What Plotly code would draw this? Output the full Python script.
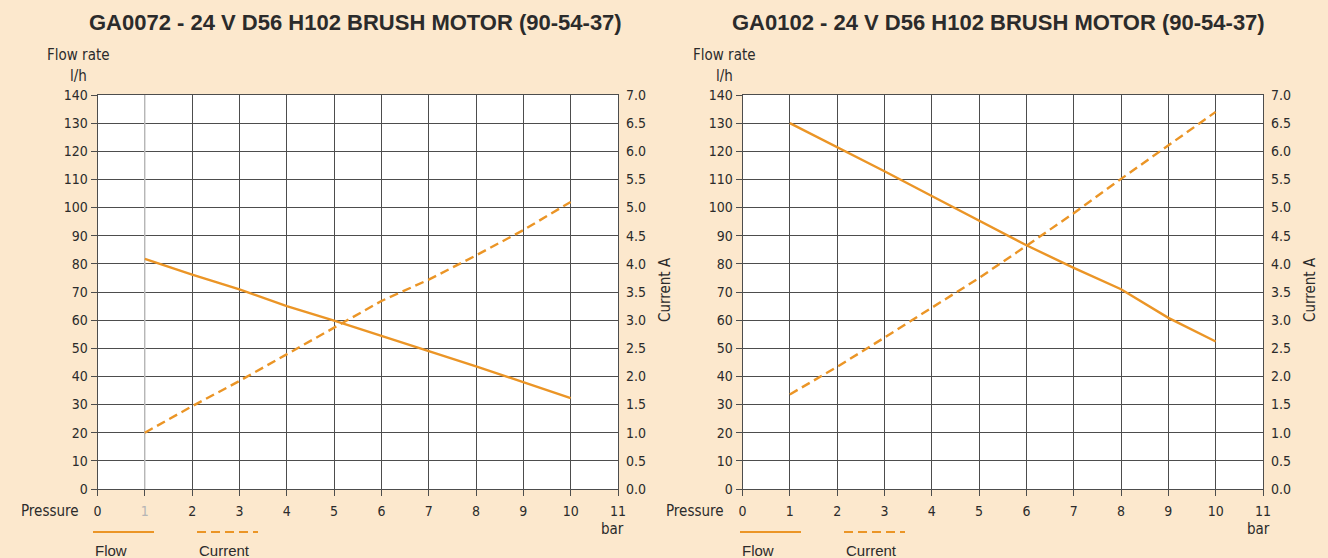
#!/usr/bin/env python
# -*- coding: utf-8 -*-

"""
Courbes débit / courant de deux pompes 24 V (GA0072, GA0102)
"""

import plotly.graph_objects as go

# Données
pressure = [1, 2, 3, 4, 5, 6, 7, 8, 9, 10]

ga0072_flow = [81.8, 76.2, 70.9, 65.0, 59.8, 54.3, 49.0, 43.6, 38.0, 32.3]
ga0072_current = [1.0, 1.47, 1.92, 2.39, 2.87, 3.34, 3.72, 4.15, 4.6, 5.1]

ga0102_flow = [130.0, 121.5, 112.9, 104.1, 95.3, 86.6, 78.6, 71.0, 60.8, 52.4]
ga0102_current = [1.68, 2.17, 2.69, 3.22, 3.75, 4.32, 4.9, 5.51, 6.11, 6.7]

titles = ["GA0072 - 24 V D56 H102 BRUSH MOTOR (90-54-37)",
          "GA0102 - 24 V D56 H102 BRUSH MOTOR (90-54-37)"]

x_ticks = list(range(0, 12))
flow_ticks = list(range(0, 150, 10))
current_ticks = [i * 0.5 for i in range(15)]

W, H = 1328, 558
BG = "#fce8cd"
ORANGE = "#eb9526"
GRID = "#4d4d4d"
TXT = "#2b2b2b"
NARROW = "Liberation Sans Narrow, DejaVu Sans Condensed, Arial Narrow, sans-serif"
WIDE = "Liberation Sans, Arial, sans-serif"
DASH = "9px,5px"


def px(x):
    return x / W


def py(y):
    return 1 - y / H


def label(text, x, y, size=15, family=NARROW, xanchor="center", **kw):
    return dict(text=text, xref="paper", yref="paper", x=px(x), y=py(y),
                xanchor=xanchor, yanchor="middle", showarrow=False,
                font=dict(family=family, size=size, color=TXT), **kw)


# Positions des deux graphiques (en pixels)
panels = [
    dict(x0=97.5, x1=618, pressure_right=81, bar_x=612, legend_x=93,
         title_x=355, flowrate_x=78, current_x=665),
    dict(x0=742.5, x1=1263, pressure_right=726, bar_x=1258, legend_x=740,
         title_x=998, flowrate_x=724, current_x=1310),
]
y_top, y_bot = 95, 489

fig = go.Figure()
annotations = []
shapes = []

for i, (p, flow, current) in enumerate(zip(
        panels, [ga0072_flow, ga0102_flow], [ga0072_current, ga0102_current])):
    n = 2 * i + 1
    xa = "x" if i == 0 else "x%d" % (i + 1)
    ya = "y" if n == 1 else "y%d" % n
    ya2 = "y%d" % (n + 1)

    fig.add_trace(go.Scatter(x=pressure, y=flow, mode="lines", name="Flow",
                             line=dict(color=ORANGE, width=2.4),
                             xaxis=xa, yaxis=ya, showlegend=False))
    fig.add_trace(go.Scatter(x=pressure, y=current, mode="lines", name="Current",
                             line=dict(color=ORANGE, width=2.4, dash=DASH),
                             xaxis=xa, yaxis=ya2, showlegend=False))

    ticktext = [str(t) for t in x_ticks]
    if i == 0:
        ticktext[1] = '<span style="color:#b5b5b5">1</span>'

    xdom = [px(p["x0"]), px(p["x1"])]
    ydom = [py(y_bot), py(y_top)]
    xkey = "xaxis" if i == 0 else "xaxis%d" % (i + 1)
    ykey = "yaxis" if n == 1 else "yaxis%d" % n
    y2key = "yaxis%d" % (n + 1)

    fig.layout[xkey] = dict(
        domain=xdom, range=[0, 11], anchor=ya, tickvals=x_ticks, ticktext=ticktext,
        automargin=False,
        showgrid=True, gridcolor=GRID, gridwidth=1, zeroline=False,
        showline=True, linecolor=GRID, linewidth=1, mirror=True,
        ticks="outside", ticklen=6, tickcolor=GRID, ticklabelstandoff=3,
        tickfont=dict(family=NARROW, size=14, color=TXT),
    )
    fig.layout[ykey] = dict(
        domain=ydom, range=[0, 140], anchor=xa, tickvals=flow_ticks,
        automargin=False,
        showgrid=True, gridcolor=GRID, gridwidth=1, zeroline=False,
        showline=True, linecolor=GRID, linewidth=1, mirror=True,
        ticks="outside", ticklen=6, tickcolor=GRID,
        tickfont=dict(family=NARROW, size=14, color=TXT),
    )
    fig.layout[y2key] = dict(
        range=[0, 7], overlaying=ya, side="right", anchor=xa,
        tickvals=current_ticks, tickformat=".1f", automargin=False,
        showgrid=False, zeroline=False, showline=False, ticks="",
        ticklabelstandoff=7,
        tickfont=dict(family=NARROW, size=14, color=TXT),
    )

    if i == 0:
        # ligne de grille plus claire à 1 bar
        shapes.append(dict(type="line", xref=xa, yref=ya, x0=1, x1=1, y0=0, y1=140,
                           line=dict(color="#c4c4c4", width=1.4), layer="between"))

    # Titre et titres des axes
    annotations.append(label("<b>%s</b>" % titles[i], p["title_x"], 22,
                             size=22, family=WIDE))
    annotations.append(label("Flow rate", p["flowrate_x"], 55))
    annotations.append(label("l/h", p["flowrate_x"], 76))
    annotations.append(label("Current A", p["current_x"], 290, textangle=-90))
    annotations.append(label("Pressure", p["pressure_right"], 511, xanchor="right"))
    annotations.append(label("bar", p["bar_x"], 529))

    # Légende dessinée à la main (trait au-dessus du texte)
    lx = p["legend_x"]
    shapes.append(dict(type="line", xref="paper", yref="paper",
                       x0=px(lx), x1=px(lx + 61), y0=py(532), y1=py(532),
                       line=dict(color=ORANGE, width=2.2)))
    shapes.append(dict(type="line", xref="paper", yref="paper",
                       x0=px(lx + 104), x1=px(lx + 165), y0=py(532), y1=py(532),
                       line=dict(color=ORANGE, width=2.2, dash=DASH)))
    annotations.append(label("Flow", lx, 550, size=15, family=WIDE, xanchor="left"))
    annotations.append(label("Current", lx + 104, 550, size=15, family=WIDE,
                             xanchor="left"))

fig.update_layout(
    width=W, height=H,
    margin=dict(l=0, r=0, t=0, b=0),
    paper_bgcolor=BG,
    plot_bgcolor="white",
    showlegend=False,
    annotations=annotations,
    shapes=shapes,
)

# marge par défaut de la page supprimée
fig.write_html("out.html", config={"displayModeBar": False},
               post_script="document.body.style.margin='0';")
